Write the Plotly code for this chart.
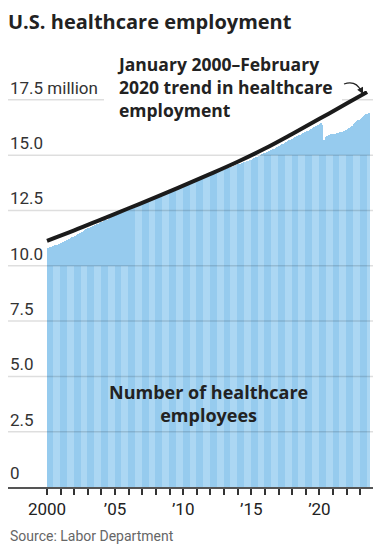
import plotly.graph_objects as go

# ---------------- data (millions of healthcare employees, monthly, Jan 2000 - Aug 2023)
start_year = 2000
healthcare_employees = [
    10.80, 10.81, 10.83, 10.84, 10.86, 10.88, 10.90, 10.92, 10.93, 10.96, 10.98, 11.00,  # 2000
    11.02, 11.05, 11.07, 11.10, 11.12, 11.15, 11.17, 11.20, 11.23, 11.26, 11.28, 11.31,  # 2001
    11.33, 11.36, 11.39, 11.42, 11.45, 11.48, 11.51, 11.54, 11.57, 11.61, 11.64, 11.67,  # 2002
    11.70, 11.72, 11.74, 11.76, 11.79, 11.81, 11.83, 11.86, 11.88, 11.91, 11.93, 11.96,  # 2003
    11.98, 12.00, 12.02, 12.05, 12.07, 12.09, 12.11, 12.14, 12.16, 12.19, 12.21, 12.23,  # 2004
    12.25, 12.28, 12.30, 12.33, 12.35, 12.38, 12.40, 12.43, 12.45, 12.48, 12.50, 12.53,  # 2005
    12.55, 12.58, 12.60, 12.62, 12.64, 12.67, 12.69, 12.71, 12.73, 12.76, 12.78, 12.80,  # 2006
    12.82, 12.85, 12.88, 12.90, 12.93, 12.95, 12.97, 13.00, 13.03, 13.05, 13.08, 13.10,  # 2007
    13.12, 13.15, 13.17, 13.20, 13.22, 13.25, 13.27, 13.30, 13.32, 13.34, 13.36, 13.38,  # 2008
    13.40, 13.42, 13.44, 13.46, 13.47, 13.49, 13.51, 13.53, 13.54, 13.56, 13.57, 13.59,  # 2009
    13.60, 13.62, 13.63, 13.65, 13.67, 13.69, 13.71, 13.73, 13.75, 13.78, 13.80, 13.82,  # 2010
    13.85, 13.87, 13.89, 13.91, 13.93, 13.95, 13.97, 13.99, 14.02, 14.04, 14.06, 14.08,  # 2011
    14.10, 14.12, 14.14, 14.16, 14.18, 14.20, 14.23, 14.25, 14.27, 14.29, 14.31, 14.33,  # 2012
    14.35, 14.37, 14.39, 14.41, 14.42, 14.44, 14.46, 14.48, 14.50, 14.52, 14.54, 14.56,  # 2013
    14.58, 14.60, 14.61, 14.63, 14.65, 14.67, 14.69, 14.71, 14.73, 14.75, 14.77, 14.79,  # 2014
    14.80, 14.83, 14.85, 14.88, 14.90, 14.93, 14.95, 14.98, 15.00, 15.03, 15.05, 15.08,  # 2015
    15.10, 15.13, 15.15, 15.18, 15.20, 15.23, 15.25, 15.28, 15.30, 15.33, 15.35, 15.38,  # 2016
    15.40, 15.43, 15.46, 15.49, 15.52, 15.55, 15.58, 15.61, 15.64, 15.67, 15.70, 15.72,  # 2017
    15.75, 15.78, 15.80, 15.83, 15.85, 15.88, 15.90, 15.93, 15.95, 15.98, 16.00, 16.03,  # 2018
    16.05, 16.08, 16.11, 16.14, 16.17, 16.20, 16.23, 16.26, 16.29, 16.32, 16.35, 16.38,  # 2019
    16.42, 16.46, 16.38, 15.15, 15.70, 15.80, 15.85, 15.88, 15.90, 15.93, 15.95, 15.96,  # 2020
    15.95, 15.96, 15.97, 15.98, 16.00, 16.01, 16.03, 16.05, 16.05, 16.08, 16.10, 16.12,  # 2021
    16.14, 16.18, 16.22, 16.26, 16.30, 16.34, 16.39, 16.44, 16.48, 16.53, 16.57, 16.60,  # 2022
    16.62, 16.67, 16.72, 16.77, 16.81, 16.85, 16.88, 16.92,                              # 2023
]

trend_years = [2000, 2002, 2004, 2006, 2008, 2010, 2012, 2014, 2016, 2018, 2020, 2022, 2023.5]
trend_values = [11.13, 11.60, 12.10, 12.60, 13.10, 13.62, 14.15, 14.70, 15.30, 15.96, 16.64, 17.33, 17.85]

y_ticks = [0, 2.5, 5.0, 7.5, 10.0, 12.5, 15.0, 17.5]
y_tick_labels = ["0", "2.5", "5.0", "7.5", "10.0", "12.5", "15.0", "17.5 million"]
x_tick_years = list(range(2000, 2024))
x_tick_labels = {2000: "2000", 2005: "\u201905", 2010: "\u201910", 2015: "\u201915", 2020: "\u201920"}

trend_label = "January 2000\u2013February<br>2020 trend in healthcare<br>employment"
bars_label = "Number of healthcare<br>employees"

# ---------------- styling
SOLID = "#96cbee"
LIGHT = "#acd7f3"
FONT = "Roboto"
BOLD = "Open Sans"
W, H = 377, 544
L, R, T, B = 8, 4, 91, 57
plot_w = W - L - R
plot_h = H - T - B


def px_x(px):
    return (px - L) / plot_w


def px_y(py):
    return (H - B - py) / plot_h


n = len(healthcare_employees)
x_pos = [start_year + (i + 0.5) / 12 for i in range(n)]
year_of = [start_year + i // 12 for i in range(n)]


def cap(i, v):
    y = year_of[i]
    if y < 2006:
        return min(v, 10.0)
    if y < 2015:
        return v
    return min(v, 15.0)


striped = [cap(i, v) for i, v in enumerate(healthcare_employees)]
stripe_colors = [SOLID if (i // 6) % 2 == 0 else LIGHT for i in range(n)]

fig = go.Figure()
fig.add_trace(go.Bar(x=x_pos, y=healthcare_employees, width=1 / 12,
                     marker=dict(color=SOLID, line=dict(width=0)), hoverinfo="skip"))
fig.add_trace(go.Bar(x=x_pos, y=striped, width=1 / 12,
                     marker=dict(color=stripe_colors, line=dict(width=0)), hoverinfo="skip"))
fig.add_trace(go.Scatter(x=trend_years, y=trend_values, mode="lines",
                         line=dict(color="#1b1b1b", width=4, shape="spline"), hoverinfo="skip"))

# gridlines above bars
for v in y_ticks[1:]:
    fig.add_shape(type="line", xref="paper", x0=0, x1=1, yref="y", y0=v, y1=v,
                  line=dict(color="rgba(0,0,0,0.13)", width=1.5), layer="above")
# white backing behind the trend label (hides part of the top gridline)
fig.add_shape(type="rect", xref="paper", yref="paper", x0=px_x(104), x1=px_x(342),
              y0=px_y(104), y1=px_y(96), fillcolor="white", line=dict(width=0), layer="above")

# y tick labels sitting on the gridlines
for v, t in zip(y_ticks, y_tick_labels):
    fig.add_annotation(xref="paper", x=0, yref="y", y=v, text=t, showarrow=False,
                       xanchor="left", yanchor="bottom", yshift=0 if v else 2,
                       font=dict(family=FONT, size=17, color="#333"))

x_start = 2000 - (47 - L) / 13.62
x_end = x_start + plot_w / 13.62

fig.update_layout(
    width=W, height=H, margin=dict(l=L, r=R, t=T, b=B),
    plot_bgcolor="white", paper_bgcolor="white",
    barmode="overlay", bargap=0, showlegend=False,
    title=dict(text="<b>U.S. healthcare employment</b>", x=L / W, xanchor="left",
               y=1 - 22 / H, yanchor="middle", font=dict(family=BOLD, size=20, color="#222")),
    xaxis=dict(range=[x_start, x_end], tickvals=x_tick_years,
               ticktext=[x_tick_labels.get(y, "") for y in x_tick_years],
               ticks="outside", ticklen=6, tickwidth=1.5, tickcolor="#333",
               showline=True, linecolor="#555", linewidth=2, showgrid=False, zeroline=False,
               tickfont=dict(family=FONT, size=17, color="#222"), layer="above traces",
               fixedrange=True),
    yaxis=dict(range=[0, 17.9], showticklabels=False, showgrid=False, zeroline=False,
               fixedrange=True),
)

fig.add_annotation(xref="paper", yref="paper", x=px_x(115), y=px_y(87),
                   xanchor="left", yanchor="middle", align="left", showarrow=False,
                   text=f"<b>{trend_label}</b>",
                   font=dict(family=BOLD, size=17.5, color="#222"))

fig.add_annotation(xref="paper", yref="paper", x=px_x(208), y=px_y(403),
                   xanchor="center", yanchor="middle", align="center", showarrow=False,
                   text=f"<b>{bars_label}</b>",
                   font=dict(family=BOLD, size=18, color="#222"))

fig.add_annotation(xref="paper", yref="paper", x=0, y=px_y(536),
                   xanchor="left", yanchor="middle", showarrow=False,
                   text="Source: Labor Department",
                   font=dict(family=FONT, size=14, color="#666"))

# curved pointer arrow
fig.add_shape(type="path", xref="paper", yref="paper",
              path=f"M {px_x(344)},{px_y(84)} Q {px_x(356)},{px_y(80)} {px_x(361)},{px_y(91)}",
              line=dict(color="#222", width=1.3))
fig.add_annotation(xref="paper", yref="paper", x=px_x(363), y=px_y(94), text="",
                   showarrow=True, arrowhead=2, arrowsize=1, arrowwidth=1.3,
                   arrowcolor="#222", ax=-2, ay=-4)

fig.write_html("out.html", config={"displayModeBar": False},
               post_script="document.body.style.margin='0';")
